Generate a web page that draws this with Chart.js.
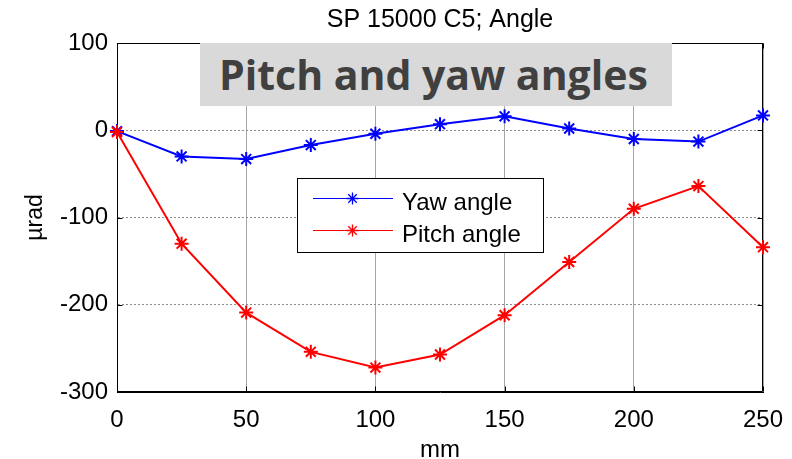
<!DOCTYPE html>
<html>
<head>
<meta charset="utf-8">
<script src="https://cdn.jsdelivr.net/npm/chart.js@4/dist/chart.umd.min.js"></script>
<style>
  html, body { margin: 0; padding: 0; background: #fff; }
  #wrap { position: relative; width: 792px; height: 459px; }
  #banner {
    position: absolute; left: 200px; top: 43px; width: 472px; height: 63px;
    box-sizing: border-box; padding-left: 19px;
    background: #d9d9d9; color: #404040;
    font: 700 41px "Open Sans", sans-serif; line-height: 63px; white-space: nowrap;
  }
</style>
</head>
<body>
<div id="wrap">
  <canvas id="c" width="792" height="459"></canvas>
  <div id="banner">Pitch and yaw angles</div>
</div>
<script>
// Measurement positions along the part (mm)
const positionsMm = [0, 25, 50, 75, 100, 125, 150, 175, 200, 225, 250];
// Measured angles (µrad)
const yawAngle   = [-1, -30, -33, -17, -4, 7, 16, 2, -10, -13, 17];
const pitchAngle = [-2, -130, -209, -254, -272, -257, -212, -151, -90, -64, -134];
// Axis ticks
const xTicks = [0, 50, 100, 150, 200, 250];
const yTicks = [100, 0, -100, -200, -300];

const FONT = '"Liberation Sans", Arial, sans-serif';

const toPoints = (xs, ys) => xs.map((x, i) => ({ x, y: ys[i] }));

// Draws the full box around the axes plus inward-pointing tick marks
const framePlugin = {
  id: 'frame',
  beforeDatasetsDraw(chart) {
    const { ctx, chartArea: a, scales: { x, y } } = chart;
    const L = Math.round(a.left) + 0.5, R = Math.round(a.right) - 0.5;
    const T = Math.round(a.top) + 0.5, B = Math.round(a.bottom) - 0.5;
    ctx.save();
    ctx.strokeStyle = '#000';
    ctx.lineWidth = 1;
    ctx.beginPath();
    ctx.moveTo(L, T); ctx.lineTo(R, T); ctx.lineTo(R, B); ctx.lineTo(L, B); ctx.closePath();
    const tl = 5;
    xTicks.forEach(v => {
      const px = Math.round(x.getPixelForValue(v)) + 0.5;
      ctx.moveTo(px, B); ctx.lineTo(px, B - tl);
      ctx.moveTo(px, T); ctx.lineTo(px, T + tl);
    });
    yTicks.forEach(v => {
      const py = Math.round(y.getPixelForValue(v)) + 0.5;
      ctx.moveTo(L, py); ctx.lineTo(L + tl, py);
      ctx.moveTo(R, py); ctx.lineTo(R - tl, py);
    });
    ctx.stroke();
    ctx.restore();
  }
};

function drawStar(ctx, cx, cy, r) {
  const d = r * Math.SQRT1_2;
  ctx.beginPath();
  ctx.moveTo(cx - r, cy); ctx.lineTo(cx + r, cy);
  ctx.moveTo(cx, cy - r); ctx.lineTo(cx, cy + r);
  ctx.moveTo(cx - d, cy - d); ctx.lineTo(cx + d, cy + d);
  ctx.moveTo(cx - d, cy + d); ctx.lineTo(cx + d, cy - d);
  ctx.stroke();
}

// Boxed legend placed inside the plot area
const boxLegendPlugin = {
  id: 'boxLegend',
  afterDatasetsDraw(chart) {
    const { ctx } = chart;
    const bx = 297.5, by = 178.5, bw = 246, bh = 74;
    ctx.save();
    ctx.fillStyle = '#fff';
    ctx.fillRect(bx, by, bw, bh);
    ctx.strokeStyle = '#000';
    ctx.lineWidth = 1;
    ctx.strokeRect(bx, by, bw, bh);
    const rows = [
      { ds: chart.data.datasets[0], lineY: 198.5, baseY: 210 },
      { ds: chart.data.datasets[1], lineY: 230.5, baseY: 242 }
    ];
    rows.forEach(r => {
      ctx.strokeStyle = r.ds.borderColor;
      ctx.lineWidth = 1;
      ctx.beginPath();
      ctx.moveTo(313, r.lineY); ctx.lineTo(393, r.lineY);
      ctx.stroke();
      ctx.lineWidth = 1.3;
      drawStar(ctx, 352.5, r.lineY, 6);
      ctx.fillStyle = '#000';
      ctx.font = '24px ' + FONT;
      ctx.textAlign = 'left';
      ctx.textBaseline = 'alphabetic';
      ctx.fillText(r.ds.label, 402, r.baseY);
    });
    ctx.restore();
  }
};

new Chart(document.getElementById('c'), {
  type: 'line',
  data: {
    datasets: [
      {
        label: 'Yaw angle',
        data: toPoints(positionsMm, yawAngle),
        borderColor: '#0000ff', backgroundColor: '#0000ff',
        borderWidth: 2, pointStyle: 'star', pointRadius: 7,
        pointBorderWidth: 2, pointBorderColor: '#0000ff',
        tension: 0, clip: false, order: 1
      },
      {
        label: 'Pitch angle',
        data: toPoints(positionsMm, pitchAngle),
        borderColor: '#ff0000', backgroundColor: '#ff0000',
        borderWidth: 2, pointStyle: 'star', pointRadius: 7,
        pointBorderWidth: 2, pointBorderColor: '#ff0000',
        tension: 0, clip: false, order: 0
      }
    ]
  },
  options: {
    responsive: false,
    animation: false,
    devicePixelRatio: 1,
    layout: { padding: { left: 0, right: 29, top: 0, bottom: 0 } },
    plugins: {
      legend: { display: false },
      tooltip: { enabled: false },
      title: {
        display: true,
        fullSize: false,
        text: 'SP 15000 C5; Angle',
        color: '#000',
        font: { family: FONT, size: 25, weight: 'normal' },
        padding: { top: 5, bottom: 8 }
      }
    },
    scales: {
      x: {
        type: 'linear', min: 0, max: 250,
        afterBuildTicks: s => { s.ticks = xTicks.map(v => ({ value: v })); },
        afterFit: s => { s.height = 67; s.paddingLeft = 0; s.paddingRight = 0; },
        ticks: { color: '#000', font: { family: FONT, size: 24 }, padding: 14, maxRotation: 0 },
        grid: { color: '#a6a6a6', lineWidth: 1, drawTicks: false },
        border: { display: true, color: '#000', width: 1 },
        title: { display: true, text: 'mm', color: '#000', font: { family: FONT, size: 24 }, padding: { top: 0, bottom: -6 } }
      },
      y: {
        type: 'linear', min: -300, max: 100,
        afterBuildTicks: s => { s.ticks = yTicks.map(v => ({ value: v })); },
        afterFit: s => { s.width = 117; s.paddingTop = 0; s.paddingBottom = 0; },
        ticks: { color: '#000', font: { family: FONT, size: 24 }, padding: 9 },
        grid: { color: '#8c8c8c', lineWidth: 1, drawTicks: false },
        border: { display: true, color: '#000', width: 1, dash: [2, 2] },
        title: { display: true, text: 'µrad', color: '#000', font: { family: FONT, size: 23 }, padding: { top: 22, bottom: 0 } }
      }
    }
  },
  plugins: [framePlugin, boxLegendPlugin]
});
</script>
</body>
</html>
